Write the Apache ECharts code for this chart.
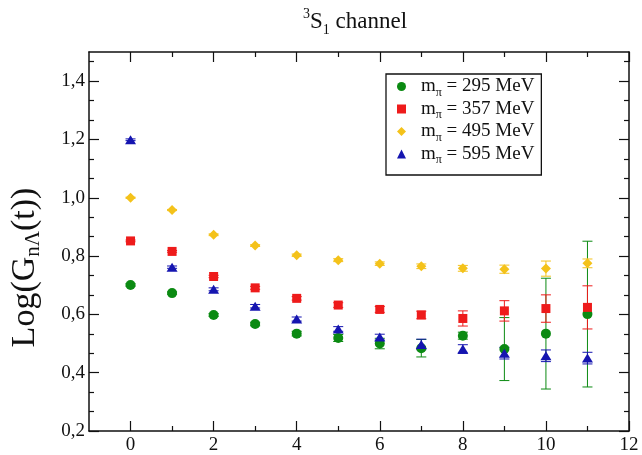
<!DOCTYPE html>
<html>
<head>
<meta charset="utf-8">
<script src="https://cdn.jsdelivr.net/npm/echarts@6/dist/echarts.min.js"></script>
<style>html,body{margin:0;padding:0;background:#fff}#c{width:642px;height:455px}</style>
</head>
<body>
<div id="c"></div>
<script>
// ---- data ----
var tValues = [0, 1, 2, 3, 4, 5, 6, 7, 8, 9, 10, 11];
var seriesNames = ['295', '357', '495', '595'];
var g295 = [0.701, 0.673, 0.598, 0.567, 0.534, 0.519, 0.500, 0.484, 0.527, 0.481, 0.534, 0.601];
var e295 = [0.004, 0.004, 0.005, 0.006, 0.008, 0.012, 0.018, 0.030, 0.012, 0.108, 0.190, 0.250];
var g357 = [0.852, 0.816, 0.730, 0.691, 0.655, 0.632, 0.617, 0.598, 0.586, 0.612, 0.620, 0.624];
var e357 = [0.003, 0.003, 0.004, 0.005, 0.006, 0.008, 0.010, 0.013, 0.026, 0.035, 0.047, 0.074];
var g495 = [1.000, 0.958, 0.873, 0.836, 0.803, 0.786, 0.774, 0.765, 0.758, 0.755, 0.757, 0.775];
var e495 = [0.002, 0.002, 0.003, 0.003, 0.004, 0.005, 0.006, 0.008, 0.010, 0.014, 0.026, 0.015];
var g595 = [1.199, 0.762, 0.686, 0.628, 0.584, 0.550, 0.522, 0.497, 0.481, 0.467, 0.458, 0.450];
var e595 = [0.003, 0.004, 0.005, 0.006, 0.007, 0.008, 0.010, 0.018, 0.015, 0.020, 0.020, 0.020];
var xMajorTicks = [0, 2, 4, 6, 8, 10, 12];
var xMinorTicks = [1, 3, 5, 7, 9, 11];
var yMajorTicks = [0.2, 0.4, 0.6, 0.8, 1.0, 1.2, 1.4];
var yMinorTicks = [0.2667, 0.3333, 0.4667, 0.5333, 0.6667, 0.7333, 0.8667, 0.9333, 1.0667, 1.1333, 1.2667, 1.3333, 1.4667];

var colors = ['#0b8a12', '#ee1b1b', '#f4c21a', '#1515b0'];
var symbols = ['circle', 'rect', 'diamond', 'triangle'];
var symSizes = [10, 9, 10, [11, 9]];
var values = [g295, g357, g495, g595];
var errors = [e295, e357, e495, e595];

var FONT = '"Liberation Serif", "DejaVu Serif", serif';

function xAxisDef(pos, ticks, len, main) {
  return {
    type: 'value', position: pos, min: -1, max: 12,
    axisLine: {show: main, onZero: false, lineStyle: {color: '#111', width: 1.5}},
    axisTick: {show: true, inside: true, length: len, customValues: ticks, lineStyle: {color: '#111', width: 1.2}},
    axisLabel: {show: main && pos === 'bottom', customValues: xMajorTicks, margin: 5,
      color: '#111', fontFamily: FONT, fontSize: 19},
    splitLine: {show: false}
  };
}
function yAxisDef(pos, ticks, len, main, withName) {
  var a = {
    type: 'value', position: pos, min: 0.2, max: 1.5,
    axisLine: {show: main, onZero: false, lineStyle: {color: '#111', width: 1.5}},
    axisTick: {show: true, inside: true, length: len, customValues: ticks, lineStyle: {color: '#111', width: 1.2}},
    axisLabel: {show: main && pos === 'left', customValues: yMajorTicks, margin: 4,
      color: '#111', fontFamily: FONT, fontSize: 19,
      formatter: function (v) { return v.toFixed(1).replace('.', ','); }},
    splitLine: {show: false}
  };
  if (withName) {
    a.name = '{a|Log(G}{s|nΛ}{a|(t))}';
    a.nameLocation = 'middle';
    a.nameRotate = 90;
    a.nameGap = 45;
    a.nameTextStyle = {
      color: '#111', fontFamily: FONT, fontSize: 34, padding: [0, 52, 0, 0],
      rich: {
        a: {fontFamily: FONT, fontSize: 34, lineHeight: 38, color: '#111'},
        s: {fontFamily: FONT, fontSize: 21, lineHeight: 16, verticalAlign: 'bottom', color: '#111'}
      }
    };
  }
  return a;
}

var series = [];
for (var i = 0; i < 4; i++) {
  (function (k) {
    var errData = tValues.map(function (t, j) { return [t, values[k][j], errors[k][j]]; });
    series.push({
      type: 'custom', name: seriesNames[k] + '_err', xAxisIndex: 0, yAxisIndex: 0, z: 2,
      silent: true,
      renderItem: function (params, api) {
        var x = api.value(0), y = api.value(1), e = api.value(2);
        var pTop = api.coord([x, y + e]);
        var pBot = api.coord([x, y - e]);
        var cw = 5;
        var st = {stroke: colors[k], lineWidth: 1};
        return {type: 'group', children: [
          {type: 'line', shape: {x1: pTop[0], y1: pTop[1], x2: pBot[0], y2: pBot[1]}, style: st},
          {type: 'line', shape: {x1: pTop[0] - cw, y1: pTop[1], x2: pTop[0] + cw, y2: pTop[1]}, style: st},
          {type: 'line', shape: {x1: pBot[0] - cw, y1: pBot[1], x2: pBot[0] + cw, y2: pBot[1]}, style: st}
        ]};
      },
      encode: {x: 0, y: 1},
      data: errData
    });
    series.push({
      type: 'scatter', name: seriesNames[k], xAxisIndex: 0, yAxisIndex: 0, z: 3,
      symbol: symbols[k], symbolSize: symSizes[k],
      itemStyle: {color: colors[k], opacity: 1},
      data: tValues.map(function (t, j) { return [t, values[k][j]]; })
    });
  })(i);
}

var chart = echarts.init(document.getElementById('c'), null, {renderer: 'canvas'});
chart.setOption({
  animation: false,
  backgroundColor: '#fff',
  title: {
    text: '{p|3}{b|S}{q|1}{b| channel}',
    left: 303, top: 7, padding: 0,
    textStyle: {
      fontFamily: FONT, fontSize: 23, fontWeight: 'normal', color: '#111',
      rich: {
        p: {fontFamily: FONT, fontSize: 14, lineHeight: 12, verticalAlign: 'top', color: '#111'},
        b: {fontFamily: FONT, fontSize: 23, lineHeight: 30, color: '#111'},
        q: {fontFamily: FONT, fontSize: 14, lineHeight: 12, verticalAlign: 'bottom', color: '#111'}
      }
    }
  },
  grid: {left: 88, right: 13, top: 52, bottom: 23, containLabel: false},
  legend: {
    orient: 'vertical', left: 386, top: 74,
    padding: [3, 7, 9, 11], itemGap: 1, itemWidth: 9, itemHeight: 9,
    borderColor: '#111', borderWidth: 1.3, borderRadius: 0,
    data: seriesNames,
    formatter: function (name) { return '{m|m}{s|π}{t| = ' + name + ' MeV}'; },
    textStyle: {
      fontFamily: FONT, fontSize: 19, color: '#111',
      rich: {
        m: {fontFamily: FONT, fontSize: 19, lineHeight: 24, padding: [0, 0, 0, 10], color: '#111'},
        s: {fontFamily: FONT, fontSize: 12, lineHeight: 12, verticalAlign: 'bottom', color: '#111'},
        t: {fontFamily: FONT, fontSize: 19, lineHeight: 24, color: '#111'}
      }
    }
  },
  xAxis: [
    xAxisDef('bottom', xMajorTicks, 10, true),
    xAxisDef('bottom', xMinorTicks, 5, false),
    xAxisDef('top', xMajorTicks, 10, true),
    xAxisDef('top', xMinorTicks, 5, false)
  ],
  yAxis: [
    yAxisDef('left', yMajorTicks, 10, true, true),
    yAxisDef('left', yMinorTicks, 5, false, false),
    yAxisDef('right', yMajorTicks, 10, true, false),
    yAxisDef('right', yMinorTicks, 5, false, false)
  ],
  series: series
});
</script>
</body>
</html>
